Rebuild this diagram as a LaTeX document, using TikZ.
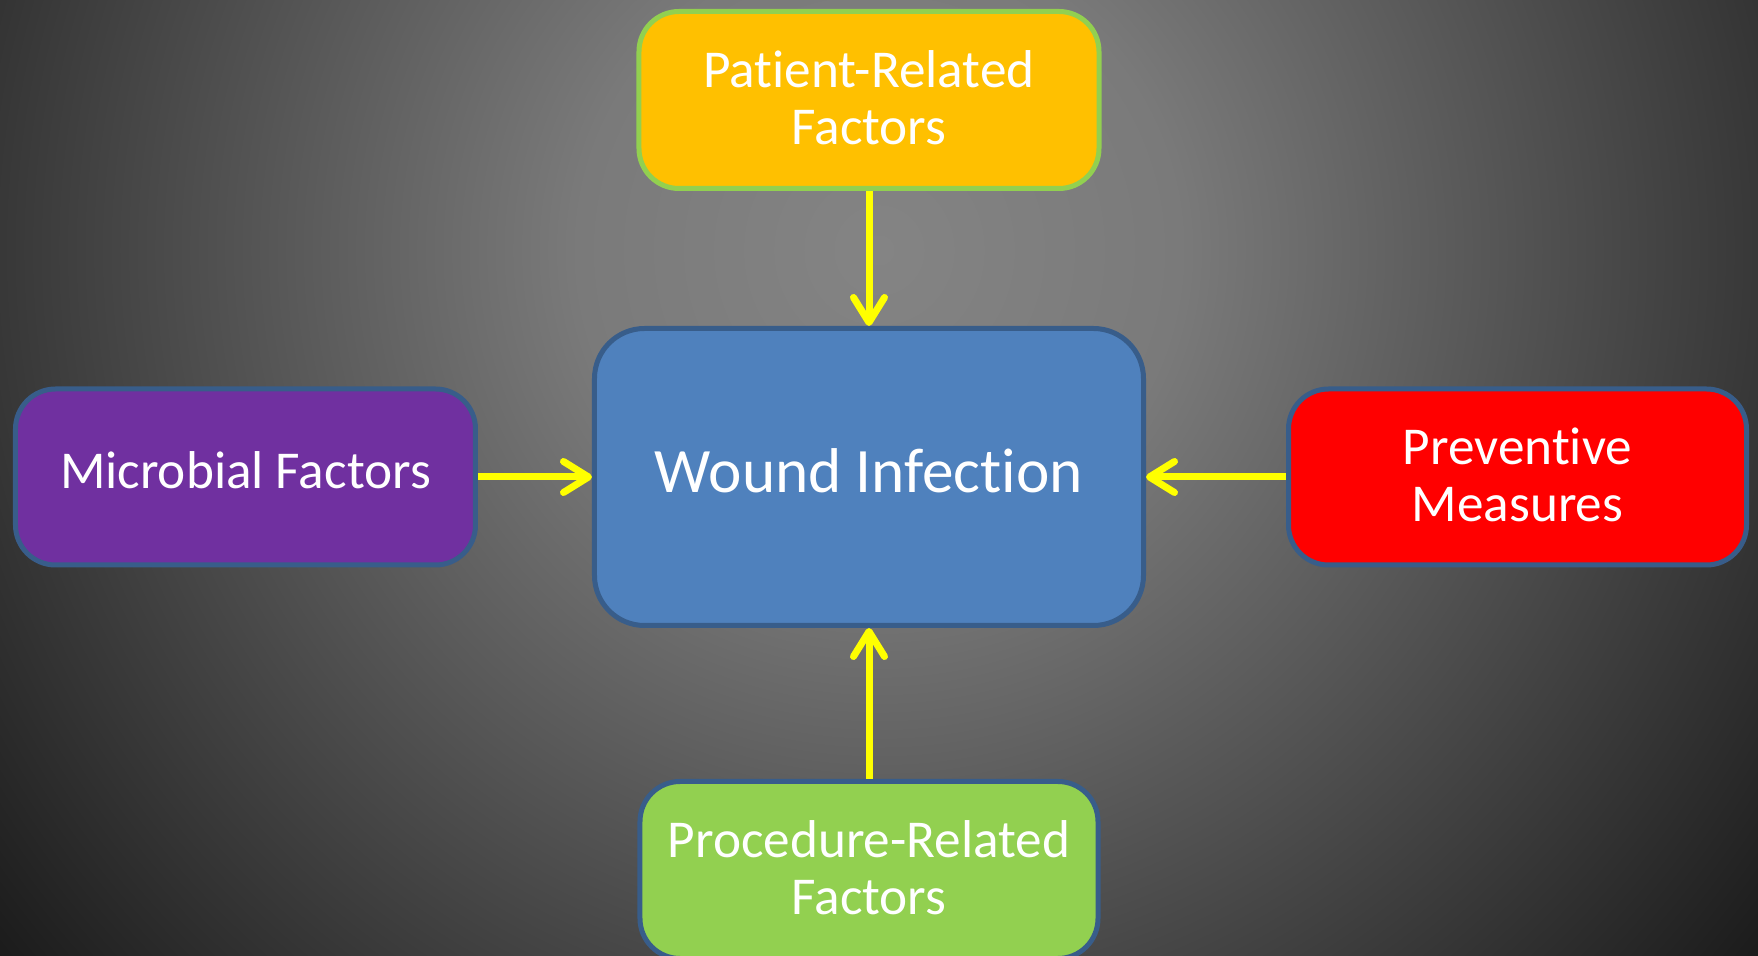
\documentclass[tikz,border=0pt]{standalone}
\usepackage{fontspec}
\setmainfont{Carlito}[Ligatures={NoCommon}]
\usetikzlibrary{arrows.meta, positioning}
\definecolor{boxorange}{RGB}{255,192,0}
\definecolor{boxgreen}{RGB}{146,208,80}
\definecolor{boxblue}{RGB}{79,129,189}
\definecolor{boxpurple}{RGB}{112,48,160}
\definecolor{boxred}{RGB}{255,0,0}
\definecolor{edgeblue}{RGB}{56,93,138}
\definecolor{bglight}{RGB}{132,132,132}
\definecolor{bgmid}{RGB}{122,122,122}
\definecolor{bgdark}{RGB}{27,27,27}
\definecolor{flowyellow}{RGB}{255,255,0}

\pgfdeclareradialshading{bgglow}{\pgfpoint{0bp}{0bp}}{color(0bp)=(bglight); color(6.65bp)=(bgmid); color(25bp)=(bgdark); color(50bp)=(bgdark)}

\tikzset{
    factor/.style={draw=edgeblue, line width=0.1cm, rounded corners=0.8cm, text=white,
        align=center, minimum width=9.2cm, minimum height=3.54cm, text depth=0.1cm,
        font=\fontsize{30.3}{32.5}\selectfont},
    core/.style={factor, rounded corners=1cm, fill=boxblue, minimum width=10.98cm,
        minimum height=5.94cm, text depth=0.26cm, font=\fontsize{36}{38}\selectfont},
    flow/.style={line width=0.14cm, flowyellow,
        -{Straight Barb[length=0.5cm, width=0.62cm, line cap=round, line join=round]}}
}

\begin{document}
\begin{tikzpicture}
    % Background
    \useasboundingbox (-17.38,-9.58) rectangle (17.78,9.54);
    \fill[bgdark] (-17.38,-9.58) rectangle (17.78,9.54);
    \begin{scope}
        \clip (-17.38,-9.58) rectangle (17.78,9.54);
        \shade[shading=bgglow] (0.2,4.54) circle (22.6);
    \end{scope}

    % Centre
    \node[core] (wound) at (0,0) {Wound Infection};

    % Factors round it
    \node[factor, fill=boxorange, draw=boxgreen, above=2.7cm of wound] (patient) {Patient-Related\\Factors};
    \node[factor, fill=boxpurple, minimum height=3.52cm, text depth=0.26cm, left=2.28cm of wound] (microbial) {Microbial Factors};
    \node[factor, fill=boxred, minimum width=9.16cm, minimum height=3.52cm, right=2.8cm of wound] (preventive) {Preventive\\Measures};
    \node[factor, fill=boxgreen, minimum width=9.16cm, below=3.02cm of wound] (procedure) {Procedure-Related\\Factors};

    % Arrows
    \draw[flow] (patient) -- (wound);
    \draw[flow] (microbial) -- (wound);
    \draw[flow] (preventive) -- (wound);
    \draw[flow] (procedure) -- (wound);
\end{tikzpicture}
\end{document}
